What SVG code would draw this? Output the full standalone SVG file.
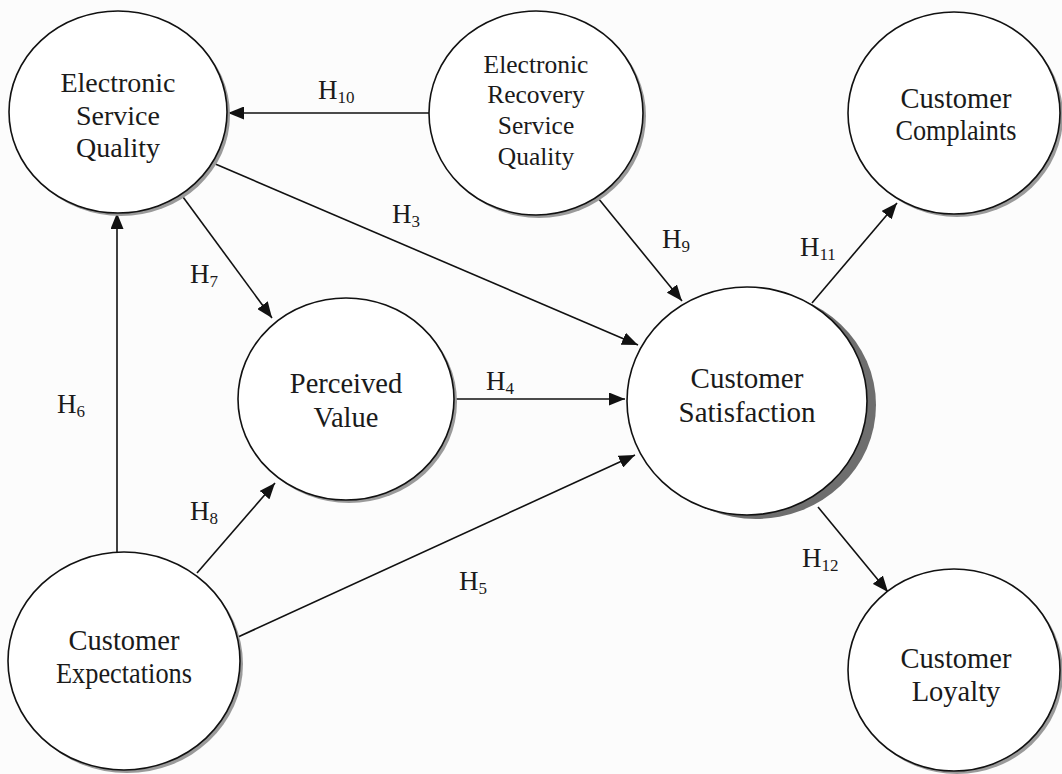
<svg xmlns="http://www.w3.org/2000/svg" width="1062" height="774" viewBox="0 0 1062 774">
  <style>
    .node { fill: #ffffff; stroke: #111111; stroke-width: 1.6; }
    .shadow { fill: #9a9a9a; }
    .shadow-dark { fill: #6e6e6e; }
    .label { font-family: "Liberation Serif", "Times New Roman", serif; font-size: 28.5px; fill: #1a1a1a; text-anchor: middle; }
    .hyp { font-family: "Liberation Serif", "Times New Roman", serif; font-size: 27px; fill: #1a1a1a; }
    .sub { font-size: 17px; }
    .edge { stroke: #111111; stroke-width: 1.6; fill: none; marker-end: url(#arrow); }
  </style>
  <defs>
    <marker id="arrow" markerUnits="userSpaceOnUse" markerWidth="17" markerHeight="13" refX="16" refY="6.5" orient="auto">
      <path d="M0,0 L16,6.5 L0,13 z" fill="#111111"/>
    </marker>
  </defs>

  <rect width="1062" height="774" fill="#fcfcfc"/>

  <!-- connectors -->
  <g id="connectors">
    <line class="edge" x1="430" y1="113" x2="228" y2="113"/>
    <line class="edge" x1="213" y1="163" x2="638" y2="345"/>
    <line class="edge" x1="598" y1="198" x2="682" y2="301"/>
    <line class="edge" x1="455" y1="399" x2="625" y2="399"/>
    <line class="edge" x1="238" y1="637" x2="635" y2="455"/>
    <line class="edge" x1="117" y1="552" x2="117" y2="213"/>
    <line class="edge" x1="183" y1="197" x2="272" y2="318"/>
    <line class="edge" x1="197" y1="573" x2="275" y2="483"/>
    <line class="edge" x1="812" y1="303" x2="897" y2="203"/>
    <line class="edge" x1="818" y1="507" x2="888" y2="592"/>

    <text class="hyp" x="318" y="99">H<tspan class="sub" dy="4">10</tspan></text>
    <text class="hyp" x="392" y="223">H<tspan class="sub" dy="4">3</tspan></text>
    <text class="hyp" x="662" y="248">H<tspan class="sub" dy="4">9</tspan></text>
    <text class="hyp" x="190" y="283">H<tspan class="sub" dy="4">7</tspan></text>
    <text class="hyp" x="57" y="413">H<tspan class="sub" dy="4">6</tspan></text>
    <text class="hyp" x="190" y="520">H<tspan class="sub" dy="4">8</tspan></text>
    <text class="hyp" x="486" y="390">H<tspan class="sub" dy="4">4</tspan></text>
    <text class="hyp" x="459" y="590">H<tspan class="sub" dy="4">5</tspan></text>
    <text class="hyp" x="800" y="256">H<tspan class="sub" dy="4">11</tspan></text>
    <text class="hyp" x="802" y="567">H<tspan class="sub" dy="4">12</tspan></text>
  </g>

  <!-- nodes -->
  <g id="electronic-service-quality">
    <ellipse class="shadow" cx="121" cy="115" rx="109" ry="101"/>
    <ellipse class="node" cx="118" cy="112" rx="109" ry="101"/>
    <text class="label" style="font-size:28px" x="118" y="92">Electronic</text>
    <text class="label" style="font-size:28px" x="118" y="125">Service</text>
    <text class="label" style="font-size:28px" x="118" y="157">Quality</text>
  </g>

  <g id="electronic-recovery-service-quality">
    <ellipse class="shadow" cx="539" cy="116" rx="107" ry="102"/>
    <ellipse class="node" cx="536" cy="113" rx="107" ry="102"/>
    <text class="label" style="font-size:25.5px" x="536" y="73">Electronic</text>
    <text class="label" style="font-size:25.5px" x="536" y="103">Recovery</text>
    <text class="label" style="font-size:25.5px" x="536" y="134">Service</text>
    <text class="label" style="font-size:25.5px" x="536" y="165">Quality</text>
  </g>

  <g id="customer-complaints">
    <ellipse class="shadow" cx="957" cy="116" rx="106" ry="101"/>
    <ellipse class="node" cx="954" cy="113" rx="106" ry="101"/>
    <text class="label" x="956" y="108">Customer</text>
    <text class="label" x="956" y="140" textLength="121" lengthAdjust="spacingAndGlyphs">Complaints</text>
  </g>

  <g id="perceived-value">
    <ellipse class="shadow" cx="349" cy="402" rx="108" ry="101"/>
    <ellipse class="node" cx="346" cy="399" rx="108" ry="101"/>
    <text class="label" x="346" y="393">Perceived</text>
    <text class="label" x="346" y="427">Value</text>
  </g>

  <g id="customer-satisfaction">
    <ellipse class="shadow-dark" cx="756" cy="405" rx="120" ry="114"/>
    <ellipse class="node" cx="747" cy="401" rx="120" ry="114"/>
    <text class="label" style="font-size:29px" x="747" y="388">Customer</text>
    <text class="label" style="font-size:29px" x="747" y="422">Satisfaction</text>
  </g>

  <g id="customer-expectations">
    <ellipse class="shadow" cx="127" cy="664" rx="116" ry="109"/>
    <ellipse class="node" cx="124" cy="661" rx="116" ry="109"/>
    <text class="label" x="124" y="650">Customer</text>
    <text class="label" x="124" y="683" textLength="136" lengthAdjust="spacingAndGlyphs">Expectations</text>
  </g>

  <g id="customer-loyalty">
    <ellipse class="shadow" cx="957" cy="673" rx="106" ry="101"/>
    <ellipse class="node" cx="954" cy="670" rx="106" ry="101"/>
    <text class="label" x="956" y="668">Customer</text>
    <text class="label" x="956" y="701">Loyalty</text>
  </g>
</svg>
